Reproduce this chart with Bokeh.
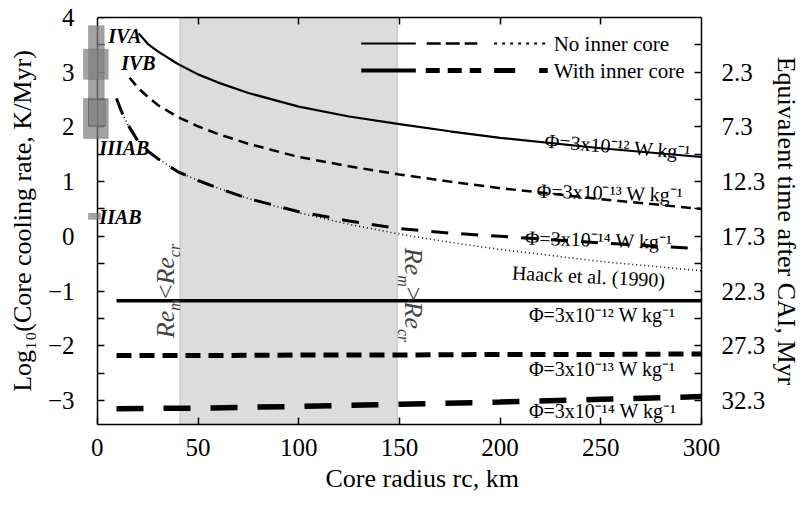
import math
from bokeh.plotting import figure
from bokeh.models import LinearAxis, FixedTicker, BoxAnnotation, Label, Range1d, Title
from bokeh.embed import file_html
from bokeh.resources import INLINE

# ---------------- data ----------------
# No inner core, log10 cooling rate vs core radius (km)
radius_nc12 = [20.5, 25, 30, 40, 50, 60, 75, 100, 125, 150, 175, 200, 250, 300]
cool_nc12 = [3.71, 3.52, 3.38, 3.15, 2.96, 2.81, 2.62, 2.37, 2.19, 2.05, 1.92, 1.80, 1.61, 1.45]

radius_nc13 = [16, 20, 25, 30, 40, 50, 60, 75, 100, 125, 150, 175, 200, 250, 300]
cool_nc13 = [2.90, 2.72, 2.55, 2.40, 2.18, 2.01, 1.87, 1.69, 1.45, 1.28, 1.13, 1.00, 0.88, 0.68, 0.50]

radius_nc14 = [9.5, 12, 15, 20, 25, 30, 40, 50, 60, 75, 100, 125, 150, 175, 200, 250, 300]
cool_nc14 = [2.52, 2.28, 2.05, 1.75, 1.56, 1.42, 1.18, 1.02, 0.88, 0.69, 0.45, 0.28, 0.14, 0.06, 0.00, -0.12, -0.23]

# Haack et al. (1990)
radius_haack = [9.5, 12, 15, 20, 25, 30, 40, 50, 60, 75, 100, 125, 150, 175, 200, 250, 300]
cool_haack = [2.52, 2.28, 2.05, 1.75, 1.56, 1.42, 1.18, 1.02, 0.88, 0.69, 0.43, 0.22, 0.04, -0.11, -0.24, -0.46, -0.63]

# With inner core
radius_ic = [9.5, 50, 100, 150, 200, 250, 300]
cool_ic12 = [-1.18, -1.18, -1.18, -1.18, -1.18, -1.18, -1.18]
cool_ic13 = [-2.18, -2.18, -2.17, -2.17, -2.16, -2.16, -2.15]
cool_ic14 = [-3.15, -3.14, -3.11, -3.07, -3.03, -2.98, -2.93]

# Magnetic Reynolds number boundaries (km)
re_bounds = [41, 149]

# Meteorite groups: measured cooling-rate ranges (log10 K/Myr)
groups = ["IVA", "IVB", "IIIAB", "IIAB"]
group_lo = [2.00, 2.87, 1.79, 0.31]
group_hi = [3.85, 3.42, 2.52, 0.42]
inner_box = [2.02, 2.50]

x_ticks = [0, 50, 100, 150, 200, 250, 300]
y_ticks = [-3, -2, -1, 0, 1, 2, 3, 4]
y_minor = [-2.5, -1.5, -0.5, 0.5, 1.5, 2.5, 3.5]
time_ticks = [3, 2, 1, 0, -1, -2, -3]
time_labels = ["2.3", "7.3", "12.3", "17.3", "22.3", "27.3", "32.3"]

phi_labels = ["Φ=3x10⁻¹² W kg⁻¹", "Φ=3x10⁻¹³ W kg⁻¹", "Φ=3x10⁻¹⁴ W kg⁻¹"]

# ---------------- layout ----------------
FONT = "Liberation Serif"
W, H = 804, 503
AX0 = 97                    # page px of x = 0 (the drawn left axis line)
FL, FR, FT, FB = 81, 706, 17, 424   # plot frame in page pixels
X1, Y0, Y1 = 300, -3.44, 4
KX = (FR - AX0) / X1
KY = (FB - FT) / (Y1 - Y0)
X0 = -(AX0 - FL) / KX       # small margin left of x=0 for the meteorite boxes

def fx(px):   # page px -> data x (layout helper for annotations)
    return (px - AX0) / KX

def fy(py):   # page py -> data y
    return Y1 - (py - FT) / KY

p = figure(width=W, height=H, x_range=Range1d(X0, X1), y_range=Range1d(Y0, Y1),
           output_backend="svg", toolbar_location=None,
           x_axis_location=None, y_axis_location=None,
           min_border_left=FL, min_border_right=W - FR,
           min_border_top=FT, min_border_bottom=H - FB)
p.xgrid.visible = False
p.ygrid.visible = False
p.outline_line_color = None
p.background_fill_color = "white"
p.border_fill_color = "white"

def style_axis(ax, ticks, minor=(), size="25px"):
    ax.ticker = FixedTicker(ticks=list(ticks), minor_ticks=list(minor))
    ax.axis_line_color = "black"
    ax.axis_line_width = 1.5
    ax.major_tick_in = 7
    ax.major_tick_out = 0
    ax.minor_tick_in = 7
    ax.minor_tick_out = 0
    ax.major_tick_line_width = 1.5
    ax.minor_tick_line_width = 1.5
    ax.major_tick_line_color = "black"
    ax.minor_tick_line_color = "black"
    ax.major_label_text_font = FONT
    ax.major_label_text_font_size = size
    ax.major_label_text_color = "black"
    ax.axis_label_text_font = FONT
    ax.axis_label_text_font_size = "26px"
    ax.axis_label_text_font_style = "normal"
    ax.axis_label_text_color = "black"

def hide_labels(ax):
    ax.major_label_text_color = None
    ax.major_label_text_font_size = "1px"
    ax.major_label_standoff = 0

# left: labels + title at the frame edge (no line/ticks) ...
left = LinearAxis(axis_label="Log₁₀(Core cooling rate, K/Myr)")
style_axis(left, y_ticks, y_minor)
left.axis_line_color = None
left.major_tick_line_color = None
left.minor_tick_line_color = None
left.major_label_standoff = 7
left.axis_label_standoff = 8
p.add_layout(left, "left")
# ... and the axis line with inward ticks at x = 0
left_line = LinearAxis(fixed_location=0, bounds=(Y0, Y1))
style_axis(left_line, y_ticks, y_minor)
hide_labels(left_line)
p.add_layout(left_line, "left")

right = LinearAxis(axis_label="Equivalent time after CAI, Myr")
style_axis(right, time_ticks, y_minor)
right.major_label_overrides = {t: s for t, s in zip(time_ticks, time_labels)}
right.major_label_standoff = 20
right.axis_label_standoff = 4
p.add_layout(right, "right")

bottom = LinearAxis(bounds=(0, X1))
style_axis(bottom, x_ticks)
bottom.major_label_standoff = 14
p.add_layout(bottom, "below")

# x-axis title, placed like the reference (left aligned with an offset)
p.add_layout(Title(text="Core radius rc, km", align="left", offset=244, standoff=6,
                   text_font=FONT, text_font_size="26px", text_font_style="normal",
                   text_color="black"), "below")

top = LinearAxis(bounds=(0, X1))
style_axis(top, x_ticks[1:-1])
hide_labels(top)
p.add_layout(top, "above")

# shaded region between Re boundaries
p.add_layout(BoxAnnotation(left=re_bounds[0], right=re_bounds[1], fill_color="#dcdcdc",
                           fill_alpha=1.0, line_color="#8c8c8c", line_width=1.5,
                           level="underlay"))

# meteorite group boxes
box_x = [(-4.4, 3.4), (-6.9, 5.4), (-6.9, 5.4), (-4.4, 1.5)]
for (xl, xr), lo, hi in zip(box_x, group_lo, group_hi):
    p.add_layout(BoxAnnotation(left=xl, right=xr, bottom=lo, top=hi, fill_color="#7f7f7f",
                               fill_alpha=0.72, line_color="#5a5a5a", line_width=1,
                               level="overlay"))
p.add_layout(BoxAnnotation(left=-4.4, right=3.9, bottom=inner_box[0], top=inner_box[1],
                           fill_alpha=0, line_color="#222222", line_width=1, level="overlay"))

# curves
p.line(radius_nc12, cool_nc12, line_color="black", line_width=2.2)
p.line(radius_nc13, cool_nc13, line_color="black", line_width=2.5, line_dash="10 6")
p.line(radius_nc14, cool_nc14, line_color="black", line_width=3, line_dash="17 13")
p.line(radius_haack, cool_haack, line_color="black", line_width=1.5, line_dash="1 3")
p.line(radius_ic, cool_ic12, line_color="black", line_width=3.5)
p.line(radius_ic, cool_ic13, line_color="black", line_width=5, line_dash="15 8")
p.line(radius_ic, cool_ic14, line_color="black", line_width=5.5, line_dash="27 20")

def label(text, x, y, size="20px", style="normal", angle=0.0, align="left",
          baseline="middle"):
    p.add_layout(Label(x=x, y=y, text=text, text_font=FONT, text_font_size=size,
                       text_font_style=style, text_color="black", angle=angle,
                       text_align=align, text_baseline=baseline))

# legend (hand drawn, two rows of line styles)
row1, row2 = fy(43), fy(70)
p.line([fx(363), fx(418)], [row1, row1], line_color="black", line_width=2.2)
p.line([fx(429), fx(480)], [row1, row1], line_color="black", line_width=2.5, line_dash="14 5")
p.line([fx(497), fx(551)], [row1, row1], line_color="black", line_width=1.8, line_dash="3 5")
p.line([fx(363), fx(418)], [row2, row2], line_color="black", line_width=4)
p.line([fx(428), fx(484)], [row2, row2], line_color="black", line_width=5, line_dash="14 8")
p.line([fx(497), fx(551)], [row2, row2], line_color="black", line_width=5, line_dash="21 24")
label("No inner core", fx(557), row1, size="21px")
label("With inner core", fx(557), row2, size="21px")

# curve labels
label(phi_labels[0], fx(548), fy(140), angle=-0.08)
label(phi_labels[1], fx(540), fy(190), angle=-0.03)
label(phi_labels[2], fx(528), fy(237), angle=-0.03)
label("Haack et al. (1990)", fx(515), fy(272), angle=-0.05)
label(phi_labels[0], fx(532), fy(314))
label(phi_labels[1], fx(532), fy(368))
label(phi_labels[2], fx(532), fy(410))

# meteorite group names
for g, px, py in zip(groups, [108, 121, 99, 99], [35, 62, 147, 216]):
    label(g, fx(px), fy(py), style="bold italic")

# Re_m < Re_cr (reading upward) and Re_m > Re_cr (reading downward)
yl = cool_ic12[0]
up = math.pi / 2
for txt, off, sub, sz in [("Re", 37.3, False, "26px"), ("m", 9.9, True, "16px"),
                          ("<", -1.7, False, "26px"), ("Re", -16.3, False, "26px"),
                          ("cr", -43.7, True, "16px")]:
    dxp = -5 if sub else -15
    p.add_layout(Label(x=re_bounds[0] + dxp / KX, y=yl - off / KY, text=txt, angle=up,
                       text_font=FONT, text_font_size=sz,
                       text_font_style="normal" if txt == "<" else "italic",
                       text_align="left", text_baseline="middle"))
for txt, off, sub, sz in [("Re", -53.0, False, "26px"), ("m", -25.6, True, "16px"),
                          (">", -14.0, False, "26px"), ("Re", 0.7, False, "26px"),
                          ("cr", 28.1, True, "16px")]:
    dxp = 6 if sub else 16
    p.add_layout(Label(x=re_bounds[1] + dxp / KX, y=yl - off / KY, text=txt, angle=-up,
                       text_font=FONT, text_font_size=sz,
                       text_font_style="normal" if txt == ">" else "italic",
                       text_align="left", text_baseline="middle"))

open("out.html", "w").write(file_html(p, INLINE))
